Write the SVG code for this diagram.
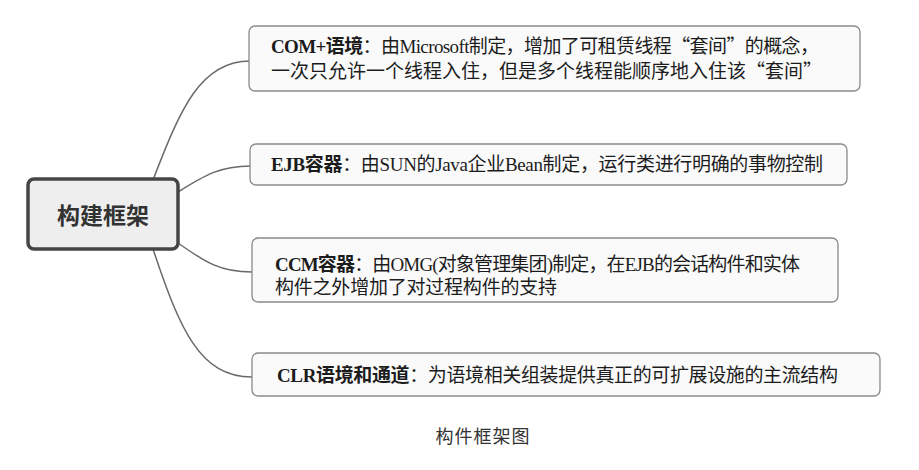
<svg xmlns="http://www.w3.org/2000/svg" width="919" height="470" viewBox="0 0 919 470">
<style>
.bg{fill:#ffffff}
.node rect{fill:#fafafa;stroke:#8a8a8a;stroke-width:1.3}
.root rect{fill:#eeeeee;stroke:#454545;stroke-width:3.5}
.t{font-family:"Liberation Serif","Noto Sans CJK SC",serif;font-size:19px;fill:#1c1c1c}
.q{font-family:"Noto Sans CJK SC",sans-serif}
.b{font-weight:bold}
.rt{font-family:"Noto Sans CJK SC",sans-serif;font-size:23px;font-weight:bold;fill:#333333}
.cap{font-family:"Noto Sans CJK SC",sans-serif;font-size:18px;fill:#333333}
.conn path{fill:none;stroke:#6a6a6a;stroke-width:1.5}
</style>
<rect class="bg" x="0" y="0" width="919" height="470"/>
<g id="connectors" class="conn">
<path d="M153,180 C180,110 200,61 250,61"/>
<path d="M178,192 C205,175 220,166 251,166"/>
<path d="M178,243 C205,262 220,272 252,272"/>
<path d="M153,249 C180,330 200,377 252,377"/>
</g>
<g id="root" class="root">
<rect x="28" y="179" width="150" height="70" rx="6"/>
<text class="rt" x="103" y="224" text-anchor="middle">构建框架</text>
</g>
<g id="com" class="node">
<rect x="249" y="26" width="611" height="65" rx="6"/>
<text class="t" x="271" y="53" textLength="548" lengthAdjust="spacing"><tspan class="b">COM+语境</tspan>：由Microsoft制定，增加了可租赁线程<tspan class="q">“</tspan>套间<tspan class="q">”</tspan>的概念，</text>
<text class="t" x="271" y="78" textLength="551" lengthAdjust="spacing">一次只允许一个线程入住，但是多个线程能顺序地入住该<tspan class="q">“</tspan>套间<tspan class="q">”</tspan></text>
</g>
<g id="ejb" class="node">
<rect x="250" y="144" width="597" height="41" rx="6"/>
<text class="t" x="271" y="171" textLength="552" lengthAdjust="spacing"><tspan class="b">EJB容器</tspan>：由SUN的Java企业Bean制定，运行类进行明确的事物控制</text>
</g>
<g id="ccm" class="node">
<rect x="252" y="238" width="586" height="64" rx="6"/>
<text class="t" x="275" y="271" textLength="525" lengthAdjust="spacing"><tspan class="b">CCM容器</tspan>：由OMG(对象管理集团)制定，在EJB的会话构件和实体</text>
<text class="t" x="275" y="294" textLength="282" lengthAdjust="spacing">构件之外增加了对过程构件的支持</text>
</g>
<g id="clr" class="node">
<rect x="252" y="353" width="628" height="43" rx="6"/>
<text class="t" x="277" y="382" textLength="561" lengthAdjust="spacing"><tspan class="b">CLR语境和通道</tspan>：为语境相关组装提供真正的可扩展设施的主流结构</text>
</g>
<text id="caption" class="cap" x="483" y="443" text-anchor="middle" letter-spacing="1">构件框架图</text>
</svg>
